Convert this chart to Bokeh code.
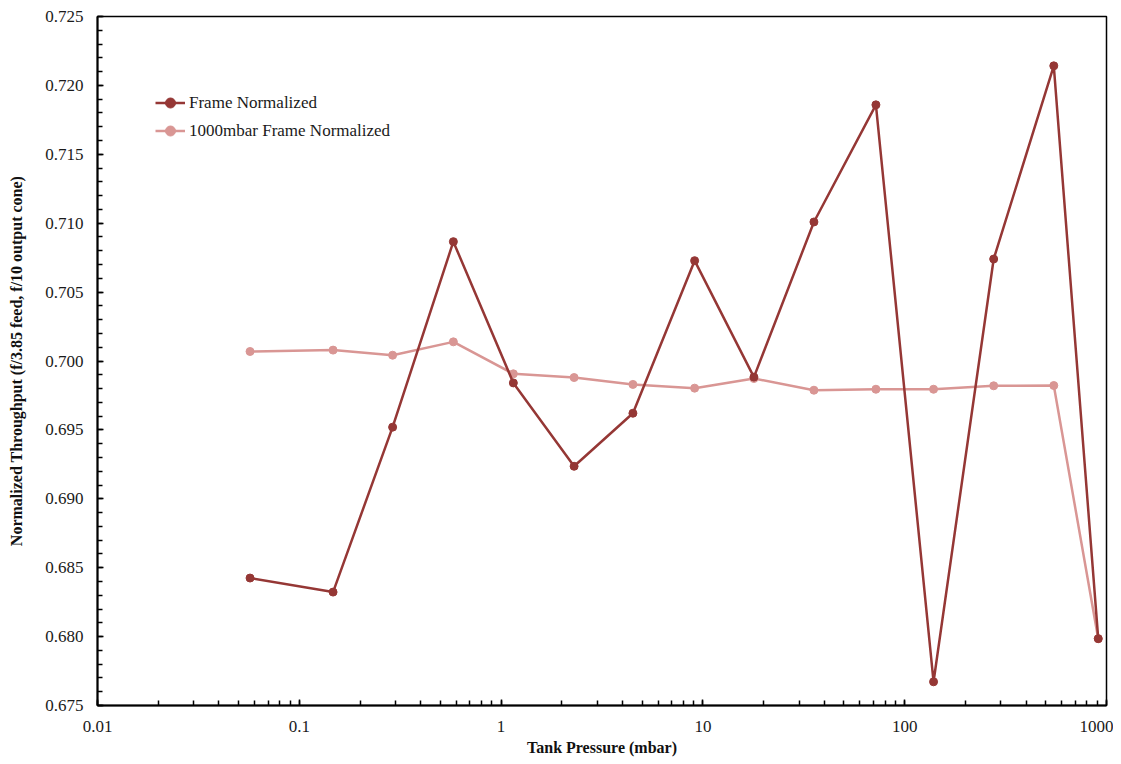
from bokeh.plotting import figure
from bokeh.models import (Range1d, SingleIntervalTicker, LogTicker, CustomJSTickFormatter,
                          PrintfTickFormatter, Legend, LegendItem)
from bokeh.embed import file_html
from bokeh.resources import INLINE

# ---- data ----
pressure = [0.057, 0.147, 0.29, 0.58, 1.15, 2.3, 4.5, 9.1, 17.9, 35.5, 72, 139, 276, 548, 910]
frame_norm = [0.68425, 0.68323, 0.69520, 0.70866, 0.69841, 0.69236, 0.69621, 0.70728,
              0.69883, 0.71009, 0.71859, 0.67672, 0.70740, 0.72142, 0.67985]
frame_norm_1000 = [0.70069, 0.70079, 0.70042, 0.70139, 0.69907, 0.69880, 0.69830, 0.69803,
                   0.69873, 0.69788, 0.69795, 0.69795, 0.69820, 0.69822, 0.67985]
series_names = ["Frame Normalized", "1000mbar Frame Normalized"]
x_label = "Tank Pressure (mbar)"
y_label = "Normalized Throughput (f/3.85 feed, f/10 output cone)"

DARK = "#953735"
PINK = "#D99694"
FONT = "Liberation Serif"

p = figure(width=1113, height=763, x_axis_type="log",
           x_range=Range1d(0.01, 1000), y_range=Range1d(0.675, 0.725),
           output_backend="svg", toolbar_location=None,
           min_border_left=97, min_border_right=7, min_border_top=16, min_border_bottom=58)

p.xgrid.visible = False
p.ygrid.visible = False
p.outline_line_color = "black"
p.outline_line_width = 1.5
p.background_fill_color = "white"
p.border_fill_color = "white"

# axes
for ax in (p.xaxis[0], p.yaxis[0]):
    ax.axis_line_color = "black"
    ax.axis_line_width = 2
    ax.major_tick_line_color = "black"
    ax.minor_tick_line_color = "black"
    ax.major_tick_line_width = 1.5
    ax.minor_tick_line_width = 1.5
    ax.major_tick_in = 6
    ax.major_tick_out = 0
    ax.minor_tick_in = 5
    ax.minor_tick_out = 0
    ax.major_label_text_font = FONT
    ax.major_label_text_font_size = "17px"
    ax.major_label_text_color = "#1a1a1a"
    ax.axis_label_text_font = FONT
    ax.axis_label_text_font_style = "bold"
    ax.axis_label_text_font_size = "16px"
    ax.axis_label_text_color = "#111111"

p.yaxis.ticker = SingleIntervalTicker(interval=0.005, num_minor_ticks=5)
p.yaxis.formatter = PrintfTickFormatter(format="%.3f")
p.yaxis.major_label_standoff = 14
p.yaxis.axis_label = y_label
p.yaxis.axis_label_standoff = 17

p.xaxis.ticker = LogTicker(num_minor_ticks=10, mantissas=[1])
p.xaxis.formatter = CustomJSTickFormatter(code="return String(parseFloat(tick.toPrecision(6)));")
p.xaxis.major_label_standoff = 15
p.xaxis.axis_label = x_label
p.xaxis.axis_label_standoff = 4

# series
l1 = p.line(pressure, frame_norm, line_color=DARK, line_width=2.5)
s1 = p.scatter(pressure, frame_norm, size=8, color=DARK)
l2 = p.line(pressure, frame_norm_1000, line_color=PINK, line_width=2.5)
s2 = p.scatter(pressure, frame_norm_1000, size=8, color=PINK)
# draw dark series on top of pink
p.renderers = [l2, s2, l1, s1]

legend = Legend(items=[LegendItem(label=series_names[0], renderers=[l1, s1]),
                       LegendItem(label=series_names[1], renderers=[l2, s2])],
                location=(58, 562), orientation="vertical")
legend.border_line_color = None
legend.background_fill_alpha = 0
legend.padding = 0
legend.spacing = 3
legend.glyph_width = 30
legend.glyph_height = 25
legend.label_height = 25
legend.label_standoff = 4
legend.label_text_font = FONT
legend.label_text_font_size = "17px"
legend.label_text_color = "#1a1a1a"
p.add_layout(legend)

open("out.html", "w").write(file_html(p, INLINE))
